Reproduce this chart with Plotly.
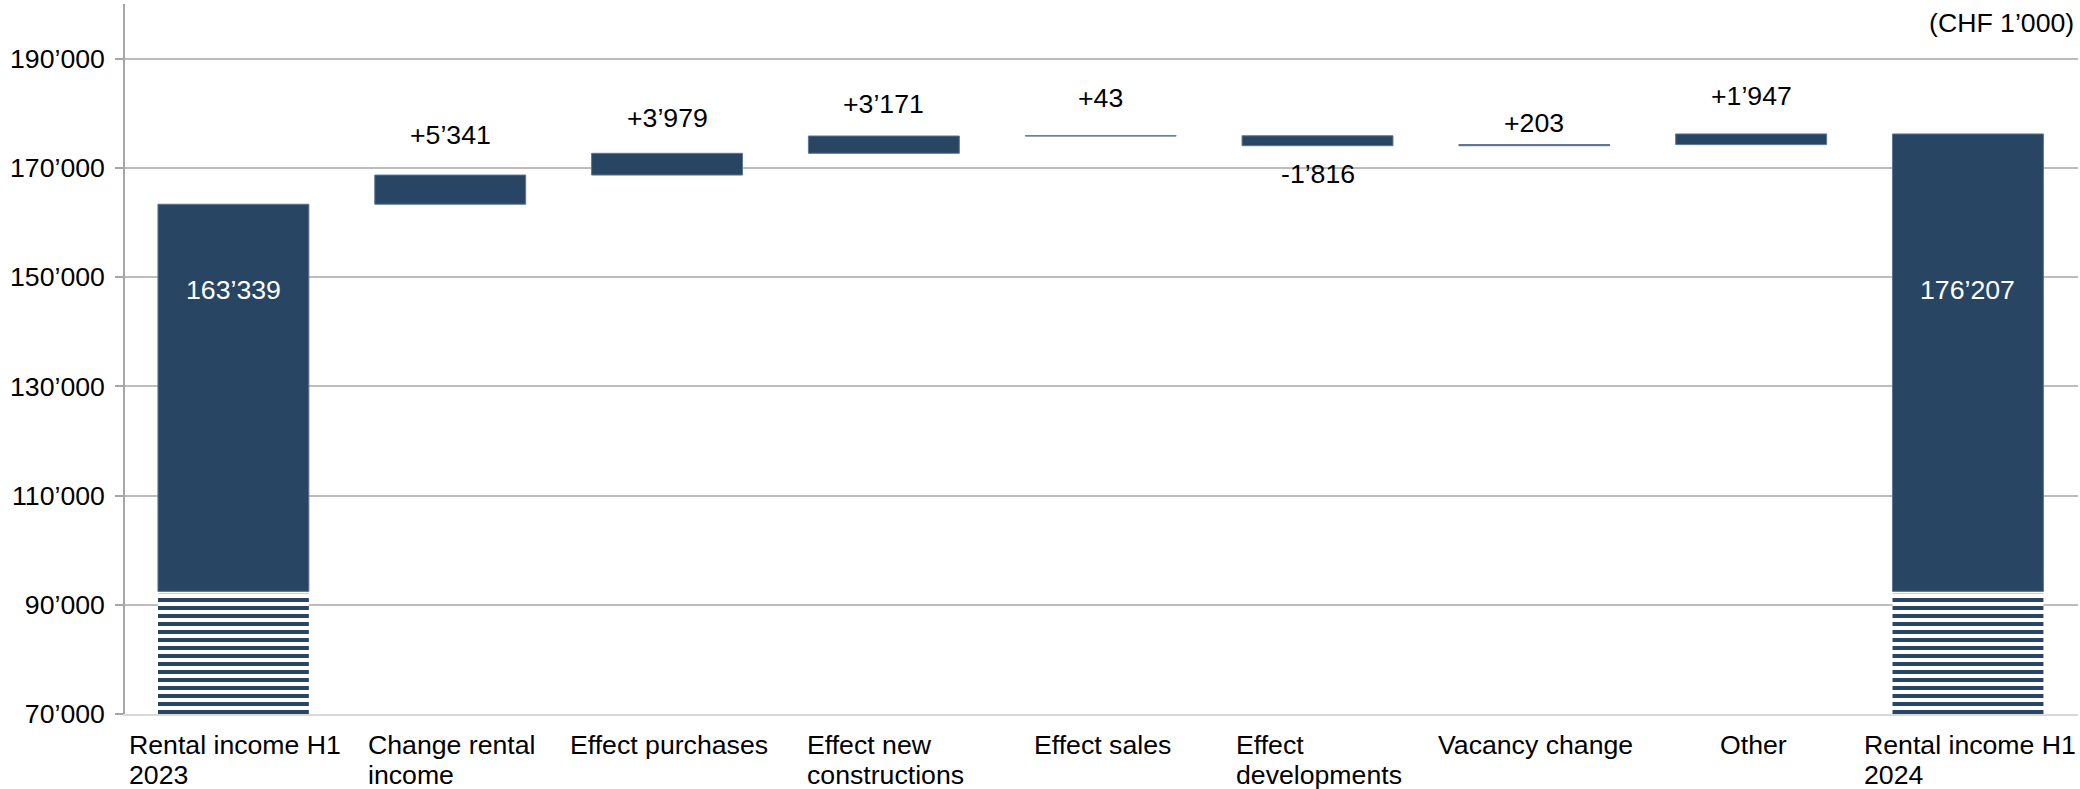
import plotly.graph_objects as go

# ---------------- data ----------------
CATEGORY_LABELS = [
    "Rental income H1<br>2023",
    "Change rental<br>income",
    "Effect purchases",
    "Effect new<br>constructions",
    "Effect sales",
    "Effect<br>developments",
    "Vacancy change",
    "Other",
    "Rental income H1<br>2024",
]
START_TOTAL = 163339
DELTAS = [5341, 3979, 3171, 43, -1816, 203, 1947]
END_TOTAL = 176207
Y_TICKS = [70000, 90000, 110000, 130000, 150000, 170000, 190000]
UNIT_NOTE = "(CHF 1’000)"

# ---------------- style / layout constants ----------------
AXIS_MIN, AXIS_MAX = 70000, 200000
BREAK_LEVEL = 92000          # top of the striped "axis break" zone
BREAK_GAP = 450              # small white gap above the stripes
TOTAL_LABEL_LEVEL = 147600   # vertical level of the white total labels
NAVY = "#284663"
EDGE = "#5b7592"
FONT = "Arial, Liberation Sans, sans-serif"
FS = 26.67
LABEL_GAP_PX = 18                          # delta label distance from bar end
LABEL_NUDGE_PX = [5, 0, -3, 3, -1, -13, 3]  # per-label fine placement
CAT_LINE_Y_PX = [-31, -61]                 # centres of category label lines below axis

# Arial / Liberation Sans advance widths (per 1000 em) for label layout
ARIAL_W = {
    " ": 278, "R": 722, "e": 556, "n": 556, "t": 278, "a": 556, "l": 222,
    "i": 222, "c": 500, "o": 556, "m": 833, "H": 722, "C": 722, "h": 556,
    "g": 556, "E": 667, "f": 278, "p": 556, "u": 556, "r": 333, "s": 500,
    "w": 722, "d": 556, "v": 500, "V": 667, "y": 500, "O": 778,
}


def text_w(s):
    return sum(ARIAL_W.get(ch, 556) for ch in s) * FS / 1000.0


def fmt(v, sign=False):
    s = f"{abs(v):,}".replace(",", "’")
    if sign:
        s = ("+" if v >= 0 else "-") + s
    return s


keys = [c.replace("<br>", " ") for c in CATEGORY_LABELS]
totals = [START_TOTAL, END_TOTAL]
total_keys = [keys[0], keys[-1]]
mid_keys = keys[1:-1]

# cumulative levels for the floating bars
levels = [START_TOTAL]
for d in DELTAS:
    levels.append(levels[-1] + d)
d_base = [min(levels[i], levels[i + 1]) for i in range(len(DELTAS))]
d_top = [max(levels[i], levels[i + 1]) for i in range(len(DELTAS))]
d_height = [abs(d) for d in DELTAS]

fig = go.Figure()

# striped axis-break part of the total bars
fig.add_trace(go.Bar(
    x=total_keys,
    y=[BREAK_LEVEL - AXIS_MIN] * 2,
    base=[AXIS_MIN] * 2,
    marker=dict(
        color="white",
        line=dict(width=0),
        pattern=dict(shape="-", fgcolor=NAVY, bgcolor="white",
                     size=8, solidity=0.5, fillmode="replace", fgopacity=1),
    ),
    hoverinfo="skip",
    showlegend=False,
))

# solid part of total bars
fig.add_trace(go.Bar(
    x=total_keys,
    y=[t - BREAK_LEVEL - BREAK_GAP for t in totals],
    base=[BREAK_LEVEL + BREAK_GAP] * 2,
    marker=dict(color=NAVY, line=dict(color=EDGE, width=1)),
    showlegend=False,
))

# floating delta bars
fig.add_trace(go.Bar(
    x=mid_keys,
    y=d_height,
    base=d_base,
    marker=dict(color=NAVY, line=dict(color=EDGE, width=1)),
    showlegend=False,
))

annotations = []
# delta labels
for k, d, lo, hi, nud in zip(mid_keys, DELTAS, d_base, d_top, LABEL_NUDGE_PX):
    if d >= 0:
        annotations.append(dict(x=k, y=hi, xref="x", yref="y", text=fmt(d, True),
                                showarrow=False, yanchor="bottom",
                                yshift=LABEL_GAP_PX + nud,
                                font=dict(size=FS, color="black", family=FONT)))
    else:
        annotations.append(dict(x=k, y=lo, xref="x", yref="y", text=fmt(d, True),
                                showarrow=False, yanchor="top",
                                yshift=-10 + nud,
                                font=dict(size=FS, color="black", family=FONT)))
# total labels
for k, t in zip(total_keys, totals):
    annotations.append(dict(x=k, y=TOTAL_LABEL_LEVEL, xref="x", yref="y", text=fmt(t),
                            showarrow=False, yanchor="middle",
                            font=dict(size=FS, color="white", family=FONT)))
# category labels: lines left-aligned inside a block centred on the category
for k, lab in zip(keys, CATEGORY_LABELS):
    lines = lab.split("<br>")
    block = max(text_w(s) for s in lines)
    for i, line in enumerate(lines):
        annotations.append(dict(x=k, y=0, xref="x", yref="paper", text=line,
                                showarrow=False, xanchor="left", yanchor="middle",
                                xshift=-block / 2, yshift=CAT_LINE_Y_PX[i],
                                font=dict(size=FS, color="black", family=FONT)))
# unit note
annotations.append(dict(x=1, y=1, xref="paper", yref="paper", text=UNIT_NOTE,
                        showarrow=False, xanchor="right", yanchor="top",
                        xshift=-2, yshift=-2,
                        font=dict(size=FS, color="black", family=FONT)))

fig.update_layout(
    width=2080, height=789,
    margin=dict(l=125, r=2, t=4, b=75),
    paper_bgcolor="white", plot_bgcolor="white",
    barmode="overlay", bargap=0.304,
    font=dict(family=FONT, size=FS, color="black"),
    annotations=annotations,
    showlegend=False,
)
fig.update_xaxes(
    type="category", categoryorder="array", categoryarray=keys,
    showticklabels=False, showgrid=False, ticks="",
    showline=True, linecolor="#d9d9d9", linewidth=2,
    fixedrange=True,
)
fig.update_yaxes(
    range=[AXIS_MIN, AXIS_MAX],
    tickvals=Y_TICKS, ticktext=[fmt(v) for v in Y_TICKS],
    showgrid=True, gridcolor="#bdbdbd", gridwidth=1.5,
    showline=True, linecolor="#a6a6a6", linewidth=1.5,
    ticks="outside", ticklen=8, tickcolor="#a6a6a6", tickwidth=1.5,
    ticklabelstandoff=5,
    tickfont=dict(size=FS, color="black", family=FONT),
    zeroline=False, fixedrange=True,
)

fig.write_html("out.html")
